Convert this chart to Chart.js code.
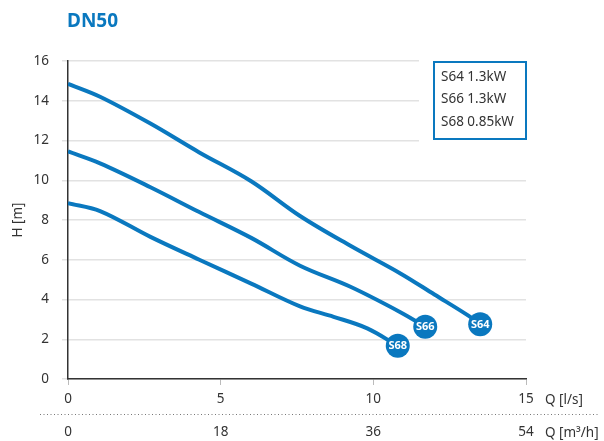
<!DOCTYPE html>
<html>
<head>
<meta charset="utf-8">
<script src="https://cdn.jsdelivr.net/npm/chart.js@4/dist/chart.umd.min.js"></script>
<style>
  html, body { margin: 0; padding: 0; background: #fff; }
  #wrap { width: 604px; height: 441px; }
</style>
</head>
<body>
<div id="wrap"><canvas id="graf_dn50"></canvas></div>
<script>
const seriesNames = ['S64', 'S66', 'S68'];
const legendLines = ['S64 1.3kW', 'S66 1.3kW', 'S68 0.85kW'];

const qS64 = [0, 1.05, 2.7, 4.3, 6.0, 7.6, 9.25, 10.9, 12.0, 13.1, 13.5];
const hS64 = [14.85, 14.2, 12.85, 11.4, 9.95, 8.2, 6.7, 5.3, 4.25, 3.2, 2.75];

const qS66 = [0, 1.05, 2.7, 4.3, 6.0, 7.6, 9.25, 10.9, 11.7];
const hS66 = [11.45, 10.85, 9.65, 8.4, 7.1, 5.7, 4.64, 3.35, 2.63];

const qS68 = [0, 1.05, 2.7, 4.3, 6.0, 7.6, 8.7, 9.8, 10.8];
const hS68 = [8.85, 8.45, 7.15, 6.0, 4.8, 3.65, 3.13, 2.55, 1.67];

const yTicks = [0, 2, 4, 6, 8, 10, 12, 14, 16];
const qTicksLs = [0, 5, 10, 15];
const qTicksM3h = [0, 18, 36, 54];

const azul = '#0a78bf';
const fuente = "'Noto Sans', 'Open Sans', sans-serif";

function pares(q, h) {
    return q.map((v, i) => ({ x: v, y: h[i] }));
}

function radioFinal(ctx) {
    return ctx.dataIndex === ctx.dataset.data.length - 1 ? 12 : 0;
}

function serie(nombre, q, h) {
    return {
        label: nombre,
        data: pares(q, h),
        borderColor: azul,
        backgroundColor: azul,
        borderWidth: 4,
        fill: false,
        tension: 0.35,
        pointRadius: radioFinal,
        pointHoverRadius: radioFinal,
        pointBackgroundColor: azul,
        pointBorderWidth: 0
    };
}

// textos extra: titulo, leyenda, etiquetas de los circulos y unidades
const extras = {
    id: 'extras',
    afterDatasetsDraw(chart) {
        const c = chart.ctx;
        c.save();
        // etiquetas en los circulos finales
        c.fillStyle = '#fff';
        c.font = "bold 11px " + fuente;
        c.textAlign = 'center';
        c.textBaseline = 'middle';
        chart.data.datasets.forEach((ds, i) => {
            const pts = chart.getDatasetMeta(i).data;
            const p = pts[pts.length - 1];
            c.fillText(seriesNames[i], p.x, p.y + 0.5);
        });
        // leyenda
        c.fillStyle = '#fff';
        c.fillRect(419, 54, 115, 92);
        c.strokeStyle = azul;
        c.lineWidth = 2;
        c.strokeRect(434, 62, 92, 77);
        c.fillStyle = '#333';
        c.font = "13.5px " + fuente;
        c.textAlign = 'left';
        legendLines.forEach((t, i) => {
            c.fillText(t, 441, 77 + i * 22.5);
        });
        c.restore();
    },
    afterDraw(chart) {
        const c = chart.ctx;
        c.save();
        // titulo
        c.fillStyle = azul;
        c.font = "bold 19px " + fuente;
        c.textAlign = 'left';
        c.textBaseline = 'middle';
        c.fillText('DN50', 67, 22);
        // linea punteada entre ejes
        c.strokeStyle = '#777';
        c.lineWidth = 1;
        c.setLineDash([1, 2.5]);
        c.beginPath();
        c.moveTo(40, 414.5);
        c.lineTo(600, 414.5);
        c.stroke();
        c.setLineDash([]);
        // unidades
        c.fillStyle = '#333';
        c.font = "13.5px " + fuente;
        c.fillText('Q [l/s]', 545, 400);
        c.fillText('Q [m³/h]', 545, 433);
        c.restore();
    }
};

const ctx = document.getElementById('graf_dn50').getContext('2d');
const chart_dn50 = new Chart(ctx, {
    type: 'line',
    data: {
        datasets: [
            serie('S64', qS64, hS64),
            serie('S66', qS66, hS66),
            serie('S68', qS68, hS68)
        ]
    },
    options: {
        responsive: true,
        maintainAspectRatio: false,
        animation: false,
        layout: {
            padding: { left: 0, top: 61, right: 78, bottom: 0 }
        },
        scales: {
            x: {
                type: 'linear',
                position: 'bottom',
                min: 0,
                max: 15,
                weight: 0,
                afterFit: (s) => { s.height = 35; },
                afterBuildTicks: (s) => { s.ticks = qTicksLs.map(v => ({ value: v })); },
                grid: {
                    drawOnChartArea: false,
                    drawTicks: true,
                    tickLength: 6,
                    color: '#bbb'
                },
                border: { color: '#333', width: 1.5 },
                ticks: {
                    color: '#333',
                    padding: 6,
                    maxRotation: 0,
                    font: { size: 13.5, family: fuente }
                }
            },
            x2: {
                type: 'linear',
                position: 'bottom',
                min: 0,
                max: 54,
                weight: 1,
                afterFit: (s) => { s.height = 27; },
                afterBuildTicks: (s) => { s.ticks = qTicksM3h.map(v => ({ value: v })); },
                grid: { display: false },
                border: { display: false },
                ticks: {
                    color: '#333',
                    padding: 2,
                    maxRotation: 0,
                    font: { size: 13.5, family: fuente }
                }
            },
            y: {
                min: 0,
                max: 16,
                afterFit: (s) => { s.width = 68; },
                afterBuildTicks: (s) => { s.ticks = yTicks.map(v => ({ value: v })); },
                grid: {
                    color: '#e2e2e2',
                    lineWidth: 1.5,
                    drawTicks: true,
                    tickLength: 6
                },
                border: { color: '#333', width: 1.5 },
                title: {
                    display: true,
                    text: 'H [m]',
                    color: '#333',
                    padding: { top: 10, bottom: 0 },
                    font: { size: 13.5, family: fuente }
                },
                ticks: {
                    color: '#333',
                    padding: 13,
                    font: { size: 13.5, family: fuente }
                }
            }
        },
        plugins: {
            legend: { display: false },
            tooltip: { enabled: false }
        }
    },
    plugins: [extras]
});
</script>
</body>
</html>
